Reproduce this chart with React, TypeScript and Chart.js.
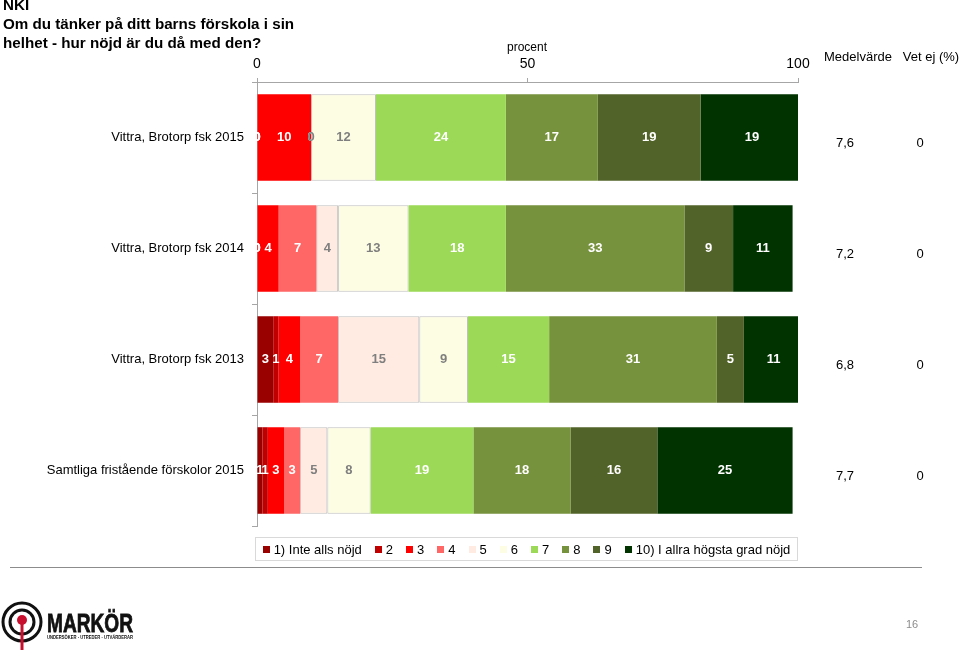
import React, { useEffect, useRef } from "react";
import { Chart, registerables } from "chart.js";

Chart.register(...registerables);

const FONT = "'Liberation Sans', Arial, sans-serif";

const categories = [
  "Vittra, Brotorp fsk 2015",
  "Vittra, Brotorp fsk 2014",
  "Vittra, Brotorp fsk 2013",
  "Samtliga fristående förskolor 2015",
];

const seriesNames = [
  "1) Inte alls nöjd",
  "2",
  "3",
  "4",
  "5",
  "6",
  "7",
  "8",
  "9",
  "10) I allra högsta grad nöjd",
];

const seriesColors = [
  "#990000",
  "#C00000",
  "#FF0000",
  "#FF6666",
  "#FFEBE1",
  "#FDFDE3",
  "#9BD957",
  "#76923C",
  "#526329",
  "#003300",
];

// values per answer level, one entry per category (row)
const s1 = [0, 0, 3, 1];
const s2 = [0, 0, 1, 1];
const s3 = [10, 4, 4, 3];
const s4 = [0, 7, 7, 3];
const s5 = [0, 4, 15, 5];
const s6 = [12, 13, 9, 8];
const s7 = [24, 18, 15, 19];
const s8 = [17, 33, 31, 18];
const s9 = [19, 9, 5, 16];
const s10 = [19, 11, 11, 25];
const seriesValues = [s1, s2, s3, s4, s5, s6, s7, s8, s9, s10];

const medelvarde = ["7,6", "7,2", "6,8", "7,7"];
const vetEj = ["0", "0", "0", "0"];

const xTicks = [0, 50, 100];

const labelPlugin = {
  id: "segLabels",
  afterDatasetsDraw(chart: any) {
    const ctx = chart.ctx;
    ctx.save();
    ctx.font = `bold 13px ${FONT}`;
    ctx.textAlign = "center";
    ctx.textBaseline = "middle";
    chart.data.datasets.forEach((ds: any, i: number) => {
      const meta = chart.getDatasetMeta(i);
      meta.data.forEach((bar: any, j: number) => {
        const v = ds.data[j];
        const cx = (bar.x + bar.base) / 2;
        ctx.fillStyle = i === 4 || i === 5 ? "#7F7F7F" : "#FFFFFF";
        ctx.fillText(String(v), cx, bar.y);
      });
    });
    ctx.restore();
  },
  afterDraw(chart: any) {
    const ctx = chart.ctx;
    const y = chart.scales.y;
    ctx.save();
    ctx.font = `13px ${FONT}`;
    ctx.fillStyle = "#000";
    ctx.textAlign = "center";
    ctx.textBaseline = "middle";
    categories.forEach((_, i) => {
      const py = y.getPixelForValue(i) + 6;
      ctx.fillText(medelvarde[i], 845, py);
      ctx.fillText(vetEj[i], 920, py);
    });
    ctx.restore();
  },
};

function ChartCanvas() {
  const ref = useRef<HTMLCanvasElement | null>(null);
  useEffect(() => {
    if (!ref.current) return;
    const chart = new Chart(ref.current, {
      type: "bar",
      data: {
        labels: categories,
        datasets: seriesValues.map((vals, i) => ({
          label: seriesNames[i],
          data: vals,
          backgroundColor: seriesColors[i],
          borderColor: i === 4 || i === 5 ? "#BFBFBF" : seriesColors[i],
          borderWidth: i === 4 || i === 5 ? 1 : 0,
          borderSkipped: false,
          barPercentage: 0.78,
          categoryPercentage: 1,
        })),
      },
      options: {
        indexAxis: "y",
        responsive: false,
        maintainAspectRatio: false,
        animation: false,
        layout: { padding: { left: 0, right: 162, top: 0, bottom: 125 } },
        plugins: {
          legend: { display: false },
          tooltip: { enabled: false },
        },
        scales: {
          x: {
            position: "top",
            stacked: true,
            min: 0,
            max: 100,
            afterBuildTicks: (s: any) => {
              s.ticks = xTicks.map((v) => ({ value: v }));
            },
            ticks: {
              font: { size: 14, family: FONT },
              color: "#000",
              padding: 5,
              maxRotation: 0,
            },
            grid: { drawOnChartArea: false, tickLength: 4, color: "#A6A6A6" },
            border: { color: "#A6A6A6" },
            afterFit: (s: any) => {
              s.height = 82;
            },
          },
          y: {
            stacked: true,
            ticks: { font: { size: 13, family: FONT }, color: "#000", padding: 8 },
            grid: { offset: true, drawOnChartArea: false, tickLength: 5, color: "#A6A6A6" },
            border: { color: "#A6A6A6" },
            afterFit: (s: any) => {
              s.width = 257;
            },
          },
        },
      } as any,
      plugins: [labelPlugin],
    });
    return () => chart.destroy();
  }, []);
  return (
    <canvas
      ref={ref}
      width={960}
      height={651}
      style={{ position: "absolute", left: 0, top: 0, width: 960, height: 651 }}
    />
  );
}

export default function App() {
  return (
    <div
      style={{
        position: "fixed",
        left: 0,
        top: 0,
        width: 960,
        height: 651,
        background: "#fff",
        fontFamily: FONT,
        overflow: "hidden",
      }}
    >
      <ChartCanvas />
      <div
        style={{
          position: "absolute",
          left: 3,
          top: -5,
          fontWeight: "bold",
          fontSize: 15.2,
          lineHeight: "19px",
          color: "#000",
        }}
      >
        <div>NKI</div>
        <div>Om du tänker på ditt barns förskola i sin</div>
        <div>helhet - hur nöjd är du då med den?</div>
      </div>
      <div
        style={{
          position: "absolute",
          left: 527,
          top: 40,
          transform: "translateX(-50%)",
          fontSize: 12,
          color: "#000",
        }}
      >
        procent
      </div>
      <div style={{ position: "absolute", left: 858, top: 49, transform: "translateX(-50%)", fontSize: 13, whiteSpace: "nowrap" }}>
        Medelvärde
      </div>
      <div style={{ position: "absolute", left: 931, top: 49, transform: "translateX(-50%)", fontSize: 13, whiteSpace: "nowrap" }}>
        Vet ej (%)
      </div>
      <div
        style={{
          position: "absolute",
          left: 255,
          top: 537,
          width: 541,
          height: 22,
          border: "1px solid #D9D9D9",
          display: "flex",
          alignItems: "center",
          justifyContent: "center",
          fontSize: 13,
          whiteSpace: "nowrap",
        }}
      >
        {seriesNames.map((n, i) => (
          <span key={n} style={{ display: "flex", alignItems: "center", marginRight: i < seriesNames.length - 1 ? 13 : 0 }}>
            <span style={{ display: "inline-block", width: 7, height: 7, background: seriesColors[i], marginRight: 4 }} />
            {n}
          </span>
        ))}
      </div>
      <div style={{ position: "absolute", left: 10, top: 567, width: 912, height: 0, borderTop: "1px solid #8C8C8C" }} />
      <svg style={{ position: "absolute", left: 0, top: 598 }} width={150} height={53}>
        <circle cx={22} cy={24} r={19} fill="none" stroke="#111" strokeWidth={3} />
        <circle cx={22} cy={24} r={12} fill="none" stroke="#111" strokeWidth={3} />
        <line x1={22} y1={24} x2={22} y2={52} stroke="#C8102E" strokeWidth={3} />
        <circle cx={22} cy={22} r={5} fill="#C8102E" />
        <text x={47} y={34} fontFamily={FONT} fontWeight="900" fontSize={26} textLength={86} lengthAdjust="spacingAndGlyphs" fill="#111" stroke="#111" strokeWidth={0.8}>
          MARKÖR
        </text>
        <text x={47} y={41} fontFamily={FONT} fontWeight="bold" fontSize={5} textLength={86} lengthAdjust="spacingAndGlyphs" fill="#111">
          UNDERSÖKER · UTREDER · UTVÄRDERAR
        </text>
      </svg>
      <div style={{ position: "absolute", left: 906, top: 618, fontSize: 11, color: "#8C8C8C" }}>16</div>
    </div>
  );
}
